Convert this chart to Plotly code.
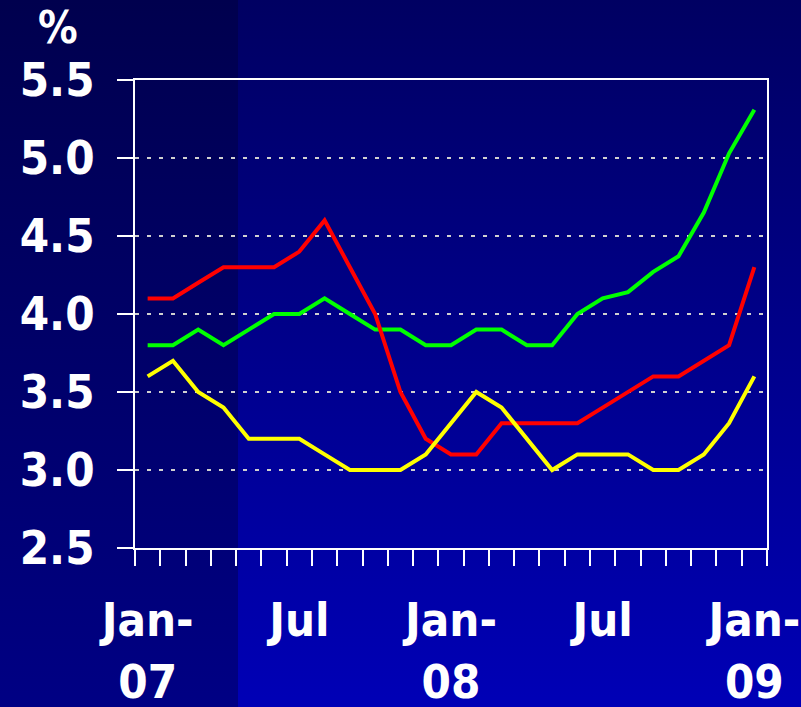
import base64
import plotly.graph_objects as go

# ---------------- data ----------------
months = ["Jan-07", "Feb-07", "Mar-07", "Apr-07", "May-07", "Jun-07", "Jul-07",
          "Aug-07", "Sep-07", "Oct-07", "Nov-07", "Dec-07", "Jan-08", "Feb-08",
          "Mar-08", "Apr-08", "May-08", "Jun-08", "Jul-08", "Aug-08", "Sep-08",
          "Oct-08", "Nov-08", "Dec-08", "Jan-09"]
red_values = [4.1, 4.1, 4.2, 4.3, 4.3, 4.3, 4.4, 4.6, 4.3, 4.0, 3.5, 3.2, 3.1,
              3.1, 3.3, 3.3, 3.3, 3.3, 3.4, 3.5, 3.6, 3.6, 3.7, 3.8, 4.3]
green_values = [3.8, 3.8, 3.9, 3.8, 3.9, 4.0, 4.0, 4.1, 4.0, 3.9, 3.9, 3.8, 3.8,
                3.9, 3.9, 3.8, 3.8, 4.0, 4.1, 4.14, 4.27, 4.37, 4.65, 5.03, 5.31]
yellow_values = [3.6, 3.7, 3.5, 3.4, 3.2, 3.2, 3.2, 3.1, 3.0, 3.0, 3.0, 3.1, 3.3,
                 3.5, 3.4, 3.2, 3.0, 3.1, 3.1, 3.1, 3.0, 3.0, 3.1, 3.3, 3.6]
label_months = ["Jan-07", "Jul-07", "Jan-08", "Jul-08", "Jan-09"]
tick_labels = ["Jan-<br>07", "Jul", "Jan-<br>08", "Jul", "Jan-<br>09"]
y_unit = "%"

# ---------------- figure ----------------
W, H = 801, 707
L, R, T, B = 135, 34, 80, 159
pw, ph = W - L - R, H - T - B

x = list(range(len(months)))
tick_pos = [months.index(m) for m in label_months]

FONT = "DejaVu Sans Condensed, DejaVu Sans, Arial, sans-serif"

fig = go.Figure()
for vals, col in [(green_values, "#00ff00"), (red_values, "#ff0000"),
                  (yellow_values, "#ffff00")]:
    fig.add_trace(go.Scatter(x=x, y=vals, mode="lines",
                             line=dict(color=col, width=4),
                             showlegend=False, hoverinfo="skip"))

svg = f'''<svg xmlns="http://www.w3.org/2000/svg" width="{W}" height="{H}" viewBox="0 0 {W} {H}" preserveAspectRatio="none">
<defs>
<linearGradient id="gl" x1="0" y1="0" x2="0" y2="1"><stop offset="0" stop-color="#00004e"/><stop offset="1" stop-color="#000084"/></linearGradient>
<linearGradient id="gr" x1="0" y1="0" x2="0" y2="1"><stop offset="0" stop-color="#000062"/><stop offset="1" stop-color="#0000b6"/></linearGradient>
</defs>
<rect x="0" y="0" width="238" height="{H}" fill="url(#gl)"/>
<rect x="238" y="0" width="{W-238}" height="{H}" fill="url(#gr)"/>
</svg>'''
src = "data:image/svg+xml;base64," + base64.b64encode(svg.encode()).decode()

tickfont = dict(family=FONT, size=47, color="white", weight="bold")

fig.update_layout(
    template="none",
    width=W, height=H,
    margin=dict(l=L, r=R, t=T, b=B, autoexpand=False),
    paper_bgcolor="#000070",
    plot_bgcolor="rgba(0,0,0,0)",
    images=[dict(source=src, xref="paper", yref="paper",
                 x=-L / pw, y=1 + T / ph, sizex=W / pw, sizey=H / ph,
                 xanchor="left", yanchor="top", sizing="stretch",
                 layer="below")],
    xaxis=dict(range=[-0.5, len(months) - 0.5], tickmode="array",
               tickvals=tick_pos, ticktext=tick_labels, ticks="",
               showline=True, linecolor="white", linewidth=2, mirror=True,
               showgrid=False, zeroline=False, automargin=False,
               tickfont=tickfont, ticklabelstandoff=30,
               minor=dict(tickmode="linear", tick0=-0.5, dtick=1,
                          ticks="outside", ticklen=16, tickwidth=2,
                          tickcolor="white", showgrid=False)),
    yaxis=dict(range=[2.5, 5.5], tickmode="linear", tick0=2.5, dtick=0.5,
               tickformat=".1f", ticks="outside", ticklen=16, tickwidth=2,
               tickcolor="white", showline=True, linecolor="white",
               linewidth=2, mirror=True, showgrid=True,
               gridcolor="#d0d0d0", gridwidth=2, griddash="4px,8px",
               zeroline=False, automargin=False, tickfont=tickfont,
               ticklabelstandoff=13),
    annotations=[dict(text=y_unit, xref="paper", yref="paper",
                      x=(58 - L) / pw, y=1 + (T - 28) / ph,
                      xanchor="center", yanchor="middle", showarrow=False,
                      font=dict(family=FONT, size=44, color="white",
                                weight="bold"))],
)

fig.write_html("out.html",
               config={"displayModeBar": False, "staticPlot": True},
               post_script="document.body.style.margin='0';"
                           "document.body.style.overflow='hidden';")
